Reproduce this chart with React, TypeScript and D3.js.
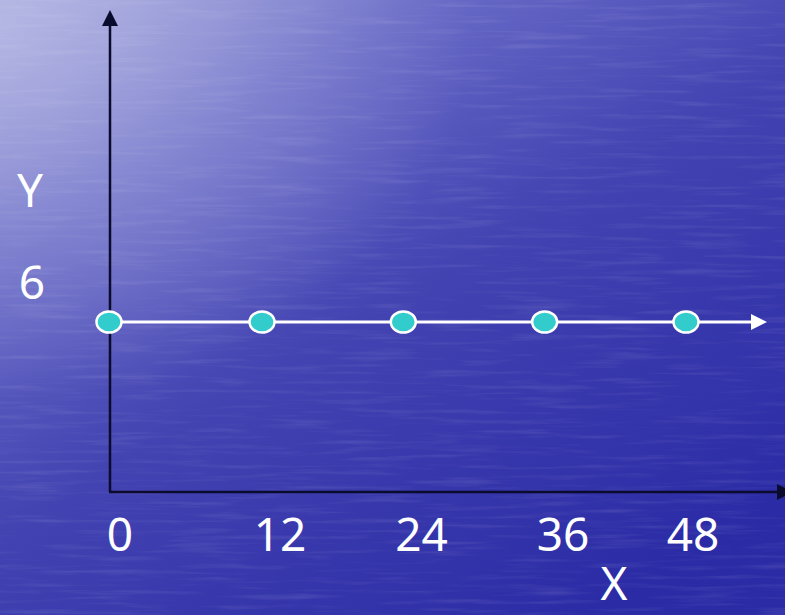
import React from "react";
import * as d3 from "d3";

const months = [0, 12, 24, 36, 48];
const values = [6, 6, 6, 6, 6];
const xTickLabels = ["0", "12", "24", "36", "48"];
const yTickValues = [6];
const yTickLabels = ["6"];

const W = 785;
const H = 615;

export default function App() {
  const x = d3.scaleLinear().domain([0, 12, 48]).range([109, 262, 686]);
  const xLabel = d3.scaleLinear().domain([0, 12, 36, 48]).range([120, 280, 563, 693]);
  const y = d3.scaleLinear().domain([0, 6]).range([492, 322]);
  const line = d3
    .line<number>()
    .x((_, i) => x(months[i]))
    .y((d) => y(d));
  const linePts = values.map((v, i) => [x(months[i]), y(v)]);
  const lastY = y(values[values.length - 1]);
  const font = "'Noto Sans', 'Open Sans', sans-serif";

  return (
    <svg
      width={W}
      height={H}
      style={{ position: "fixed", left: 0, top: 0, display: "block" }}
    >
      <defs>
        <linearGradient id="bg" x1="0" y1="0" x2="0.75" y2="1">
          <stop offset="0" stopColor="#a0a2da" />
          <stop offset="0.25" stopColor="#6a6cc7" />
          <stop offset="0.55" stopColor="#4343b2" />
          <stop offset="1" stopColor="#2b2ba6" />
        </linearGradient>
        <radialGradient id="glow" cx="0" cy="0.05" r="0.6">
          <stop offset="0" stopColor="#c4c6ea" stopOpacity="0.6" />
          <stop offset="1" stopColor="#c4c6ea" stopOpacity="0" />
        </radialGradient>
        <filter id="water" x="0" y="0" width="100%" height="100%">
          <feTurbulence type="fractalNoise" baseFrequency="0.012 0.2" numOctaves="3" seed="7" />
          <feColorMatrix
            type="matrix"
            values="0 0 0 0 1  0 0 0 0 1  0 0 0 0 1  0 0 0 1.0 -0.5"
          />
        </filter>
      </defs>
      <rect width={W} height={H} fill="url(#bg)" />
      <rect width={W} height={H} fill="url(#glow)" />
      <rect width={W} height={H} filter="url(#water)" opacity={0.22} />

      {/* Y axis */}
      <line x1={x(0) + 1} x2={x(0) + 1} y1={y(0)} y2={24} stroke="#0b0b2e" strokeWidth={2.5} />
      <path d={`M${x(0) + 1},10 L${x(0) - 7},26 L${x(0) + 9},26 Z`} fill="#0b0b2e" />
      {/* X axis */}
      <line x1={x(0)} x2={W - 6} y1={y(0)} y2={y(0)} stroke="#0b0b2e" strokeWidth={2.5} />
      <path d={`M${W + 8},${y(0)} L${W - 8},${y(0) - 8} L${W - 8},${y(0) + 8} Z`} fill="#0b0b2e" />

      {/* data line with arrow */}
      <path d={line(values) || ""} fill="none" stroke="#ffffff" strokeWidth={3} />
      <line x1={x(48)} x2={755} y1={lastY} y2={lastY} stroke="#ffffff" strokeWidth={3} />
      <path d={`M767,${lastY} L751,${lastY - 8} L751,${lastY + 8} Z`} fill="#ffffff" />

      {linePts.map(([px, py], i) => (
        <ellipse key={i} cx={px} cy={py} rx={12.5} ry={10.5} fill="#33cccc" stroke="#ffffff" strokeWidth={2.5} />
      ))}

      {/* tick labels */}
      {xTickLabels.map((t, i) => (
        <text
          key={t}
          x={xLabel(months[i])}
          y={551}
          fill="#ffffff"
          fontFamily={font}
          fontSize={46}
          textAnchor="middle"
        >
          {t}
        </text>
      ))}
      {yTickValues.map((v, i) => (
        <text key={v} x={32} y={y(v) - 23} fill="#ffffff" fontFamily={font} fontSize={46} textAnchor="middle">
          {yTickLabels[i]}
        </text>
      ))}
      <text x={30} y={207} fill="#ffffff" fontFamily={font} fontSize={46} textAnchor="middle">
        Y
      </text>
      <text x={614} y={600} fill="#ffffff" fontFamily={font} fontSize={46} textAnchor="middle">
        X
      </text>
    </svg>
  );
}
